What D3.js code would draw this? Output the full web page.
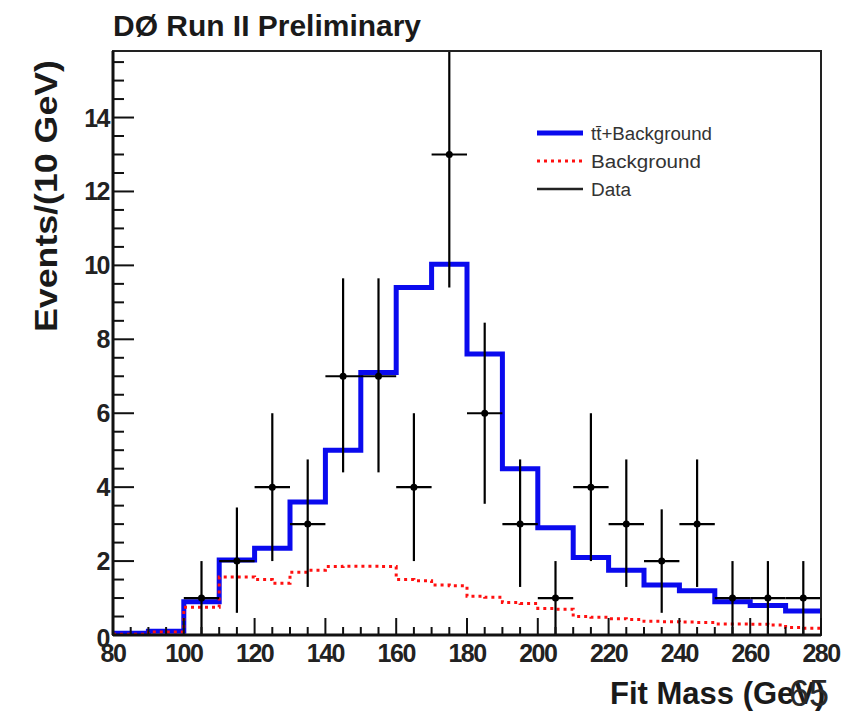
<!DOCTYPE html>
<html lang="en">
<head>
<meta charset="utf-8">
<title>DØ Run II Preliminary - Fit Mass</title>
<script src="https://cdn.jsdelivr.net/npm/d3@7"></script>
<style>
	body { margin: 0; background: #fff; }
	text { font-family: "Liberation Sans", Arial, sans-serif; }
</style>
</head>
<body>
<div id="vis"></div>
<script>
// histogram bins (GeV)
var binEdges = [80, 90, 100, 110, 120, 130, 140, 150, 160, 170, 180, 190, 200, 210, 220, 230, 240, 250, 260, 270, 280];
// ttbar + background expectation, one value per 10 GeV bin
var signalBkg = [0.05, 0.1, 0.9, 2.03, 2.35, 3.6, 5.0, 7.1, 9.4, 10.03, 7.6, 4.5, 2.9, 2.1, 1.75, 1.35, 1.2, 0.9, 0.8, 0.65];

// background only, finer 5 GeV bins
var bkgEdges = [80, 85, 90, 95, 100, 105, 110, 115, 120, 125, 130, 135, 140, 145, 150, 155, 160, 165, 170, 175, 180,
	185, 190, 195, 200, 205, 210, 215, 220, 225, 230, 235, 240, 245, 250, 255, 260, 265, 270, 275, 280];
var bkgValues = [0.02, 0.02, 0.08, 0.08, 0.75, 0.75, 1.57, 1.57, 1.5, 1.4, 1.7, 1.75, 1.85, 1.86, 1.86, 1.85, 1.5, 1.47, 1.35, 1.33,
	1.05, 1.02, 0.88, 0.85, 0.72, 0.7, 0.5, 0.48, 0.44, 0.42, 0.37, 0.36, 0.35, 0.34, 0.3, 0.3, 0.29, 0.27, 0.2, 0.18];

// data points
var dataMass = [105, 115, 125, 135, 145, 155, 165, 175, 185, 195, 205, 215, 225, 235, 245, 255, 265, 275];
var dataCounts = [1, 2, 4, 3, 7, 7, 4, 13, 6, 3, 1, 4, 3, 2, 3, 1, 1, 1];
var errUp = [1, 1.45, 2, 1.75, 2.65, 2.65, 2, 3.6, 2.45, 1.75, 1, 2, 1.75, 1.4, 1.75, 1, 1, 1];
var errDown = [1, 1.4, 2, 1.7, 2.6, 2.6, 2, 3.6, 2.45, 1.7, 1, 2, 1.7, 1.4, 1.7, 1, 1, 1];

var xTickLabels = [80, 100, 120, 140, 160, 180, 200, 220, 240, 260, 280];
var yTickLabels = [0, 2, 4, 6, 8, 10, 12, 14];

var legendLabels = ["t\u0074\u0304+Background", "Background", "Data"];

var W = 844, H = 720;
var frame = { left: 113, right: 821, top: 51, bottom: 635 };

var svg = d3.select("#vis").append("svg").attr("width", W).attr("height", H)
	.style("background", "#fff");

var x = d3.scaleLinear().domain([80, 280]).range([frame.left, frame.right]);
var y = d3.scaleLinear().domain([0, 15.8]).range([frame.bottom, frame.top]);

svg.append("defs").append("clipPath").attr("id", "plotclip")
	.append("rect").attr("x", frame.left).attr("y", frame.top)
	.attr("width", frame.right - frame.left).attr("height", frame.bottom - frame.top);

// step histograms
var stepPoints = function(edges, vals) {
	return edges.map(function(e, i) {
		return [e, vals[Math.min(i, vals.length - 1)]];
	});
};
var stepLine = d3.line()
	.x(function(d) { return x(d[0]); })
	.y(function(d) { return y(d[1]); })
	.curve(d3.curveStepAfter);

var plot = svg.append("g").attr("clip-path", "url(#plotclip)");

plot.append("path")
	.attr("d", stepLine(stepPoints(binEdges, signalBkg)))
	.attr("fill", "none").attr("stroke", "#0a0aee").attr("stroke-width", 5);

plot.append("path")
	.attr("d", stepLine(stepPoints(bkgEdges, bkgValues)))
	.attr("fill", "none").attr("stroke", "#ff1010").attr("stroke-width", 3)
	.attr("stroke-dasharray", "3,4");

// data with error bars
var pts = plot.selectAll("g.pt").data(dataMass).enter().append("g").attr("class", "pt");
pts.append("line")
	.attr("x1", function(d) { return x(d); }).attr("x2", function(d) { return x(d); })
	.attr("y1", function(d, i) { return y(dataCounts[i] + errUp[i]); })
	.attr("y2", function(d, i) { return y(dataCounts[i] - errDown[i]); })
	.attr("stroke", "#000").attr("stroke-width", 2.2);
pts.append("line")
	.attr("x1", function(d) { return x(d - 5); }).attr("x2", function(d) { return x(d + 5); })
	.attr("y1", function(d, i) { return y(dataCounts[i]); })
	.attr("y2", function(d, i) { return y(dataCounts[i]); })
	.attr("stroke", "#000").attr("stroke-width", 2.2);
pts.append("circle")
	.attr("cx", function(d) { return x(d); })
	.attr("cy", function(d, i) { return y(dataCounts[i]); })
	.attr("r", 3.5).attr("fill", "#000");

// frame
svg.append("rect")
	.attr("x", frame.left).attr("y", frame.top)
	.attr("width", frame.right - frame.left).attr("height", frame.bottom - frame.top)
	.attr("fill", "none").attr("stroke", "#222").attr("stroke-width", 2);
svg.append("line").attr("x1", frame.left).attr("x2", frame.left)
	.attr("y1", frame.top).attr("y2", frame.bottom)
	.attr("stroke", "#111").attr("stroke-width", 3);
svg.append("line").attr("x1", frame.left).attr("x2", frame.right)
	.attr("y1", frame.bottom).attr("y2", frame.bottom)
	.attr("stroke", "#111").attr("stroke-width", 3);

// ticks (ROOT style, drawn inward)
var ticks = svg.append("g").attr("stroke", "#111").attr("stroke-width", 2);
d3.range(80, 281, 5).forEach(function(v) {
	var len = (v % 20 === 0) ? 17 : 8;
	ticks.append("line").attr("x1", x(v)).attr("x2", x(v))
		.attr("y1", frame.bottom).attr("y2", frame.bottom - len);
});
d3.range(0, 15.8, 0.5).forEach(function(v) {
	var len = (v % 2 === 0) ? 21 : 11;
	ticks.append("line").attr("x1", frame.left).attr("x2", frame.left + len)
		.attr("y1", y(v)).attr("y2", y(v));
});

// tick labels
svg.selectAll("text.xt").data(xTickLabels).enter().append("text").attr("class", "xt")
	.attr("x", function(d) { return x(d); }).attr("y", 662)
	.attr("text-anchor", "middle").attr("font-size", 25).attr("font-weight", "bold")
	.attr("letter-spacing", -1.5).attr("fill", "#222")
	.text(function(d) { return d; });
svg.selectAll("text.yt").data(yTickLabels).enter().append("text").attr("class", "yt")
	.attr("x", frame.left - 4)
	.attr("y", function(d) { return y(d) + 9 + (d === 0 ? 3 : 0); })
	.attr("text-anchor", "end").attr("font-size", 25).attr("font-weight", "bold")
	.attr("letter-spacing", -1.5).attr("fill", "#222")
	.text(function(d) { return d; });

// titles
svg.append("text").attr("x", 113).attr("y", 36)
	.attr("font-size", 30).attr("font-weight", "bold").attr("fill", "#1a1a1a")
	.attr("textLength", 308).attr("lengthAdjust", "spacingAndGlyphs")
	.text("DØ Run II Preliminary");

svg.append("text")
	.attr("transform", "translate(57,196) rotate(-90)")
	.attr("text-anchor", "middle")
	.attr("font-size", 32).attr("font-weight", "bold").attr("fill", "#1a1a1a")
	.attr("textLength", 272).attr("lengthAdjust", "spacingAndGlyphs")
	.text("Events/(10 GeV)");

svg.append("text").attr("x", 610).attr("y", 704)
	.attr("font-size", 31).attr("font-weight", "bold").attr("fill", "#1a1a1a")
	.text("Fit Mass (GeV)");
// page number stamped over the axis title
svg.append("text").attr("x", 789).attr("y", 706)
	.attr("font-size", 36).attr("fill", "#2a2a2a")
	.text("65");

// legend
var legendY = [133, 161, 189];
var legendLen = [121, 110, 40];
var leg = svg.append("g");
leg.append("line").attr("x1", 537).attr("x2", 583).attr("y1", legendY[0]).attr("y2", legendY[0])
	.attr("stroke", "#0a0aee").attr("stroke-width", 5);
leg.append("line").attr("x1", 537).attr("x2", 583).attr("y1", legendY[1]).attr("y2", legendY[1])
	.attr("stroke", "#ff1010").attr("stroke-width", 3).attr("stroke-dasharray", "3,4");
leg.append("line").attr("x1", 537).attr("x2", 583).attr("y1", legendY[2]).attr("y2", legendY[2])
	.attr("stroke", "#222").attr("stroke-width", 2.5);
legendLabels.forEach(function(t, i) {
	leg.append("text").attr("x", 591).attr("y", legendY[i] + 7)
		.attr("font-size", 18).attr("fill", "#333")
		.attr("textLength", legendLen[i]).attr("lengthAdjust", "spacingAndGlyphs")
		.text(t);
});
</script>
</body>
</html>
